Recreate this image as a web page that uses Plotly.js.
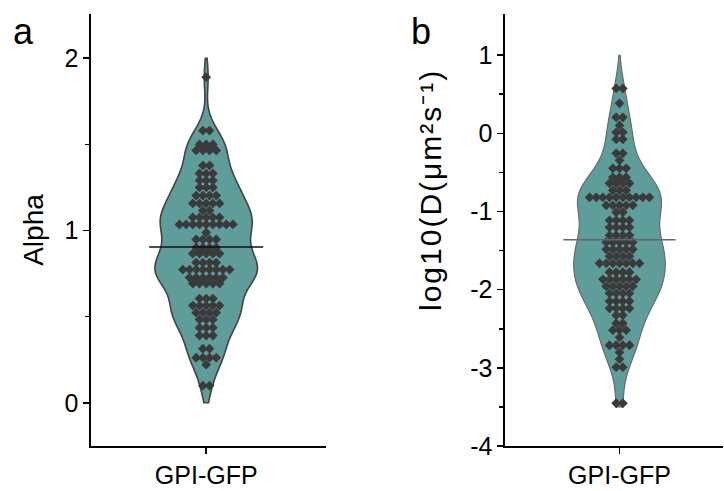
<!DOCTYPE html>
<html><head><meta charset="utf-8">
<script src="https://cdn.plot.ly/plotly-3.0.1.min.js"></script>
<style>
html,body{margin:0;padding:0;background:#fff}
g.annotation[data-index="2"] text{letter-spacing:2px}
</style>
</head><body><div id="chart" style="width:724px;height:491px"></div>
<script>
// ---- data ----
const categories = ["GPI-GFP"];
const panelLetters = ["a", "b"];
const yTitles = ["Alpha", "log10(D(μm²s⁻¹)"];

// Panel a: Alpha — row values (binned) and number of dots in each row
const alphaRowValues = [1.89,1.58,1.50,1.465,1.378,1.331,1.291,1.250,1.203,1.157,1.116,1.076,1.035,0.988,0.948,0.901,0.866,0.814,0.773,0.727,0.692,0.605,0.564,0.523,0.483,0.436,0.390,0.314,0.262,0.221,0.099];
const alphaRowCounts = [1,2,3,4,2,3,3,3,4,5,2,5,9,1,4,4,5,4,8,6,5,3,5,4,3,3,3,2,4,1,2];
const alphaCentralLine = 0.905;
const alphaSpan = [0, 2];

// Panel b: log10(D)
const logDRowValues = [0.575,0.384,0.205,0.102,0.013,-0.077,-0.256,-0.345,-0.448,-0.563,-0.639,-0.729,-0.818,-0.921,-1.010,-1.113,-1.202,-1.304,-1.394,-1.483,-1.573,-1.662,-1.777,-1.867,-1.957,-2.046,-2.148,-2.238,-2.327,-2.430,-2.519,-2.609,-2.711,-2.801,-2.890,-2.992,-3.453];
const logDRowCounts = [2,1,2,1,2,2,2,1,3,3,4,3,10,5,2,4,4,4,5,5,4,7,4,6,5,4,4,4,2,2,3,1,4,1,1,2,2];
const logDCentralLine = -1.36;
const logDSpan = [-3.5, 1.0];

const alphaTicks = [0, 1, 2];
const alphaMinorTicks = [0.5, 1.5];
const logDTicks = [-4, -3, -2, -1, 0, 1];
const logDTickText = ["-4", "-3", "-2", "-1", "0", "1"];
const logDMinorTicks = [-3.5, -2.5, -1.5, -0.5, 0.5];

// ---- styles ----
const fillColor = "#5f9d9a";
const dotColor = "#3a3a3a";
const font = "Liberation Sans, Arial, sans-serif";
const dotSpacing = 0.058;

function expand(vals, counts) {
  const y = [], x = [];
  vals.forEach((v, i) => {
    const n = counts[i];
    for (let k = 0; k < n; k++) { y.push(v); x.push((k - (n - 1) / 2) * dotSpacing); }
  });
  return {x, y};
}
const A = expand(alphaRowValues, alphaRowCounts);
const B = expand(logDRowValues, logDRowCounts);

const traces = [
  {type: "violin", x0: 0, y: A.y, xaxis: "x", yaxis: "y", points: false,
   spanmode: "manual", span: alphaSpan, width: 0.89, scalemode: "width", bandwidth: 0.09,
   fillcolor: fillColor, opacity: 1, line: {color: "#444", width: 1.6},
   box: {visible: false}, meanline: {visible: false}, hoverinfo: "skip"},
  {type: "scatter", mode: "markers", x: A.x, y: A.y, xaxis: "x", yaxis: "y",
   marker: {symbol: "diamond", size: 7.5, color: dotColor}, hoverinfo: "skip"},
  {type: "scatter", mode: "lines", x: [-0.495, 0.495], y: [alphaCentralLine, alphaCentralLine],
   xaxis: "x", yaxis: "y", line: {color: "#111", width: 1.5}, hoverinfo: "skip"},

  {type: "violin", x0: 0, y: B.y, xaxis: "x2", yaxis: "y2", points: false,
   spanmode: "manual", span: logDSpan, width: 0.8, scalemode: "width", bandwidth: 0.24,
   fillcolor: fillColor, opacity: 1, line: {color: "#666", width: 1.1},
   box: {visible: false}, meanline: {visible: false}, hoverinfo: "skip"},
  {type: "scatter", mode: "markers", x: B.x, y: B.y, xaxis: "x2", yaxis: "y2",
   marker: {symbol: "diamond", size: 7.5, color: dotColor}, hoverinfo: "skip"},
  {type: "scatter", mode: "lines", x: [-0.49, 0.49], y: [logDCentralLine, logDCentralLine],
   xaxis: "x2", yaxis: "y2", line: {color: "#666", width: 1.5}, hoverinfo: "skip"}
];

const W = 724, H = 491;
const yDom = [(H - 446) / H, (H - 14) / H];
const axisCommon = {showline: true, linecolor: "#000", linewidth: 1.6, showgrid: false, zeroline: false,
  ticks: "outside", ticklen: 6, tickwidth: 1.6, tickcolor: "#000",
  tickfont: {family: font, size: 25, color: "#000"}};

const layout = {
  width: W, height: H, margin: {l: 0, r: 0, t: 0, b: 0},
  paper_bgcolor: "#fff", plot_bgcolor: "#fff", showlegend: false,
  xaxis: Object.assign({}, axisCommon, {domain: [91 / W, 326 / W], range: [-1, 1.04],
    tickmode: "array", tickvals: [0], ticktext: categories, anchor: "y"}),
  yaxis: Object.assign({}, axisCommon, {domain: yDom, range: [-0.251, 2.257], anchor: "x",
    tickmode: "array", tickvals: alphaTicks,
    minor: {tickmode: "array", tickvals: alphaMinorTicks, ticklen: 4, tickwidth: 1.6, tickcolor: "#000", ticks: "outside"},
    title: {text: yTitles[0], font: {family: font, size: 28, color: "#000"}, standoff: 12}}),
  xaxis2: Object.assign({}, axisCommon, {domain: [505 / W, 723 / W], range: [-1, 0.904],
    tickmode: "array", tickvals: [0], ticktext: categories, anchor: "y2"}),
  yaxis2: Object.assign({}, axisCommon, {domain: yDom, range: [-4, 1.527], anchor: "x2",
    tickmode: "array", tickvals: logDTicks, ticktext: logDTickText,
    minor: {tickmode: "array", tickvals: logDMinorTicks, ticklen: 4, tickwidth: 1.6, tickcolor: "#000", ticks: "outside"}}),
  annotations: [
    {text: panelLetters[0], xref: "paper", yref: "paper", x: 11 / W, y: 1 - 9 / H, xanchor: "left", yanchor: "top",
     showarrow: false, font: {family: font, size: 36, color: "#000"}},
    {text: panelLetters[1], xref: "paper", yref: "paper", x: 409 / W, y: 1 - 9 / H, xanchor: "left", yanchor: "top",
     showarrow: false, font: {family: font, size: 36, color: "#000"}},
    {text: yTitles[1], xref: "paper", yref: "paper", x: 431 / W, y: 1 - 190 / H, xanchor: "center", yanchor: "middle",
     textangle: -90, showarrow: false, font: {family: font, size: 30, color: "#000"}}
  ]
};

Plotly.newPlot("chart", traces, layout, {displayModeBar: false, staticPlot: true});
</script>
</body></html>
